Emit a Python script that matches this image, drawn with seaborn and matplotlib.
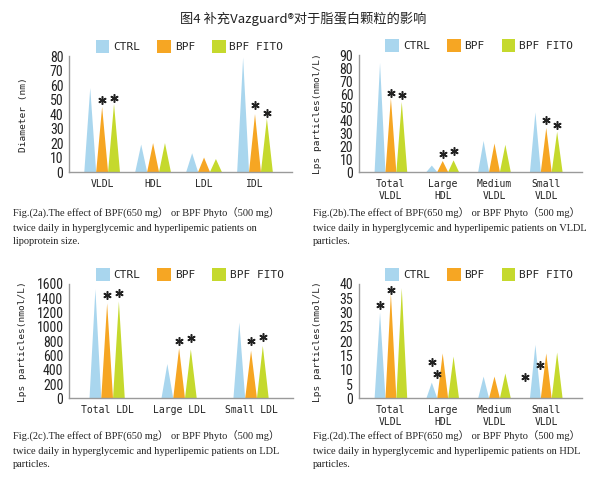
import numpy as np
import pandas as pd
import matplotlib.pyplot as plt
import seaborn as sns
from matplotlib import font_manager
from matplotlib.patches import Polygon, Patch

# -- data --
groups = ['CTRL', 'BPF', 'BPF FITO']
colors = ['#a9d6ee', '#f6a623', '#c5d92d']

# Fig 2a: lipoprotein size
size_cats = ['VLDL', 'HDL', 'LDL', 'IDL']
size_ctrl = [58, 19, 13, 79]
size_bpf = [45, 20, 10, 40]
size_fito = [47, 20, 9, 37]

# Fig 2b: VLDL particles
vldl_cats = ['Total\nVLDL', 'Large\nHDL', 'Medium\nVLDL', 'Small\nVLDL']
vldl_ctrl = [84, 5, 24, 46]
vldl_bpf = [57, 8.5, 22, 34]
vldl_fito = [54, 9, 21, 31]

# Fig 2c: LDL particles
ldl_cats = ['Total LDL', 'Large LDL', 'Small LDL']
ldl_ctrl = [1525, 480, 1060]
ldl_bpf = [1330, 700, 667]
ldl_fito = [1355, 685, 733]

# Fig 2d: HDL particles
hdl_cats = ['Total\nVLDL', 'Large\nHDL', 'Medium\nVLDL', 'Small\nVLDL']
hdl_ctrl = [30, 5.5, 7.6, 18.7]
hdl_bpf = [36.7, 15.7, 7.6, 15.7]
hdl_fito = [38.5, 14.6, 8.7, 16]

# significance stars: (category index, group index, star height)
size_stars = [(0, 1, 50), (0, 2, 51), (3, 1, 46.5), (3, 2, 41)]
vldl_stars = [(0, 1, 61), (0, 2, 59), (1, 1, 14), (1, 2, 16), (3, 1, 40), (3, 2, 36)]
ldl_stars = [(0, 1, 1450), (0, 2, 1470), (1, 1, 800), (1, 2, 840), (2, 1, 805), (2, 2, 865)]
hdl_stars = [(0, 0, 32.6), (0, 1, 38), (1, 0, 12.8), (1, 0.5, 8.4), (3, -1, 7.6), (3, 0.4, 11.7)]

title = '图4 补充Vazguard®对于脂蛋白颗粒的影响'
cap_head = 'Fig.(2{}).The effect of BPF(650 mg） or BPF Phyto（500 mg）\ntwice daily in hyperglycemic and hyperlipemic patients on'
cap_a = cap_head.format('a') + '\nlipoprotein size.'
cap_b = cap_head.format('b') + ' VLDL\nparticles.'
cap_c = cap_head.format('c') + ' LDL\nparticles.'
cap_d = cap_head.format('d') + ' HDL\nparticles.'

sns.set_style('white')
plt.rcParams['font.family'] = ['DejaVu Sans']

MONO = 'DejaVu Sans Mono'
SERIF = ['Liberation Serif', 'Noto Sans CJK SC']

# narrow face for the tick numbers, if one is installed
installed = {f.name: f.stretch for f in font_manager.fontManager.ttflist}
narrow_kw = {'family': 'Liberation Sans', 'size': 9}
if 'Liberation Sans Narrow' in installed:
    narrow_kw = {'family': 'Liberation Sans Narrow', 'size': 10}
elif 'Roboto Condensed' in installed:
    narrow_kw = {'family': 'Roboto Condensed', 'size': 10}
else:
    for f in font_manager.fontManager.ttflist:
        if f.name == 'DejaVu Sans' and str(f.stretch) in ('condensed', 'semi-condensed', '75', '87'):
            narrow_kw = {'family': 'DejaVu Sans', 'size': 9, 'stretch': 'condensed'}
            break


def pyramid_panel(ax, cats, ctrl, bpf, fito, width, ymax, ystep, xlim, ylabel, stars, label_x):
    df = pd.DataFrame({
        'cat': cats * 3,
        'group': np.repeat(groups, len(cats)),
        'value': ctrl + bpf + fito,
    })
    sns.barplot(data=df, x='cat', y='value', hue='group', order=cats, hue_order=groups,
                palette=colors, width=width, gap=0, saturation=1, errorbar=None,
                legend=False, ax=ax)
    # turn every bar into a triangle of the same base and height
    for bar in list(ax.patches):
        x0, w, h = bar.get_x(), bar.get_width(), bar.get_height()
        ax.add_patch(Polygon([[x0, 0], [x0 + w / 2, h], [x0 + w, 0]], closed=True,
                             fc=bar.get_facecolor(), ec='none'))
        bar.set_visible(False)

    bw = width / len(groups)
    for ci, gi, y in stars:
        ax.plot(ci + (gi - 1) * bw, y, ls='none', marker=(6, 2, 0), ms=6, mew=1.1, color='#222222')

    ax.set_ylim(0, ymax)
    ax.set_yticks(np.arange(0, ymax + 1, ystep))
    ax.set_xlim(*xlim)
    ax.set_xlabel('')
    ax.set_ylabel(ylabel, family=MONO, fontsize=6.8, color='#222222')
    ax.yaxis.set_label_coords(label_x, 0.5)
    ax.tick_params(length=0)
    ax.tick_params(axis='y', pad=4)
    ax.tick_params(axis='x', pad=5)
    for lab in ax.get_yticklabels():
        lab.set_fontproperties(font_manager.FontProperties(**narrow_kw))
        lab.set_color('#222222')
    for lab in ax.get_xticklabels():
        lab.set_fontfamily(MONO)
        lab.set_fontsize(7)
        lab.set_color('#222222')
    sns.despine(ax=ax)
    for side in ['left', 'bottom']:
        ax.spines[side].set_color('#9a9a9a')
        ax.spines[side].set_linewidth(1)

    handles = [Patch(fc=c, ec='none', label=g) for g, c in zip(groups, colors)]
    ax.legend(handles=handles, loc='center', bbox_to_anchor=(0.54, 1.085), ncol=3,
              frameon=False, handlelength=1.25, handleheight=1.4, handletextpad=0.35,
              columnspacing=1.5, borderaxespad=0, prop={'family': MONO, 'size': 8})


fig = plt.figure(figsize=(6, 4.93), dpi=100)
ax_a = fig.add_axes([0.115, 0.651, 0.372, 0.235])
ax_b = fig.add_axes([0.598, 0.651, 0.372, 0.237])
ax_c = fig.add_axes([0.115, 0.192, 0.373, 0.232])
ax_d = fig.add_axes([0.598, 0.192, 0.372, 0.232])

pyramid_panel(ax_a, size_cats, size_ctrl, size_bpf, size_fito, 0.70, 80, 10,
              (-0.65, 3.73), 'Diameter (nm)', size_stars, -0.184)
pyramid_panel(ax_b, vldl_cats, vldl_ctrl, vldl_bpf, vldl_fito, 0.63, 90, 10,
              (-0.62, 3.69), 'Lps particles(nmol/L)', vldl_stars, -0.166)
pyramid_panel(ax_c, ldl_cats, ldl_ctrl, ldl_bpf, ldl_fito, 0.49, 1600, 200,
              (-0.53, 2.58), 'Lps particles(nmol/L)', ldl_stars, -0.188)
pyramid_panel(ax_d, hdl_cats, hdl_ctrl, hdl_bpf, hdl_fito, 0.63, 40, 5,
              (-0.62, 3.69), 'Lps particles(nmol/L)', hdl_stars, -0.166)

fig.text(0.505, 1 - 19 / 493, title, ha='center', va='center',
         family=['Noto Sans CJK SC', 'DejaVu Sans'], fontsize=9.5, color='#222222')

for x, y, cap in [(13, 208, cap_a), (313, 208, cap_b), (13, 431, cap_c), (313, 431, cap_d)]:
    fig.text(x / 600, 1 - y / 493, cap, ha='left', va='top', family=SERIF,
             fontsize=7.5, linespacing=1.62, color='#222222')

fig.savefig('out.png', dpi=100)
